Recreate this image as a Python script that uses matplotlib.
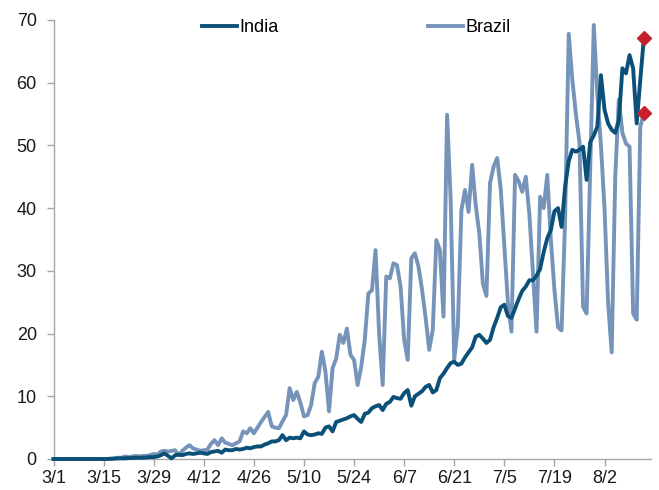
import matplotlib
matplotlib.use("Agg")
import matplotlib.pyplot as plt
import pandas as pd

plt.rcParams['font.family'] = ['Liberation Sans', 'DejaVu Sans']

# daily series, starting 3/1
start_date = '2020-03-01'

india = [0.0] * 14 + [
    0.0, 0.0, 0.05, 0.05, 0.1, 0.1, 0.1, 0.15, 0.15, 0.2, 0.2, 0.2, 0.25, 0.3,
    0.3, 0.4, 0.6, 0.9, 0.5, 0.1, 0.6, 0.7,
    0.6, 0.8, 0.9, 0.8, 0.9, 1.0, 0.9, 0.8, 1.1, 1.2,
    1.3, 1.0, 1.5, 1.4, 1.4, 1.6, 1.5, 1.6, 1.8, 1.7,
    1.9, 2.0, 2.0, 2.3, 2.5, 2.8, 2.8, 3.0, 3.8, 3.0,
    3.4, 3.3, 3.4, 3.3, 4.4, 3.9, 3.8, 3.9, 4.1, 4.0,
    5.0, 5.2, 4.4, 5.9, 6.1, 6.3, 6.5, 6.8, 7.0, 6.4,
    5.9, 7.2, 7.4, 8.1, 8.4, 8.6, 7.8, 8.8, 9.1, 9.9,
    9.7, 9.6, 10.5, 11.0, 8.5, 10.0, 10.4, 10.8, 11.5, 11.8, 10.6, 11.0,
    12.9, 13.6, 14.5, 15.3, 15.5, 15.0, 15.2, 16.2, 17.0, 17.8, 19.5, 19.8, 19.2, 18.5, 19.0,
    21.0, 22.5, 24.2, 24.6, 22.8, 22.5, 24.0, 25.5, 26.8, 27.5, 28.5, 28.5,
    29.2, 30.3, 33.0, 35.2, 36.5,
    39.5, 40.0, 37.0, 43.5, 47.5, 49.3, 49.0, 49.3, 49.8,
    44.5, 50.5, 51.6, 53.0, 61.2, 55.7, 53.5, 52.5, 52.0, 54.0, 62.3, 61.5, 64.4,
    62.3, 53.5, 60.5, 67.1,
]

brazil = [0.0] * 17 + [
    0.1, 0.2, 0.2, 0.4, 0.3, 0.4, 0.5, 0.4, 0.5, 0.5, 0.6, 0.8, 0.7, 1.2, 1.3,
    1.2, 1.3, 1.4, 0.6, 1.3, 1.8, 2.2,
    1.7, 1.5, 1.3, 1.4, 1.5, 2.4, 3.0, 2.2, 3.3, 2.6, 2.4, 2.2, 2.5, 2.8, 4.4,
    4.1, 4.9, 4.1, 5.0, 5.9, 6.7, 7.5, 5.2, 5.0, 4.9, 6.0, 7.0, 11.3, 9.4, 10.7,
    9.0, 6.8,
    7.0, 8.6, 12.1, 13.1, 17.1, 14.0, 7.6, 14.5, 16.0, 19.8,
    18.5, 20.8, 16.6, 15.8, 11.8, 14.7, 19.0, 26.4, 26.9, 33.3,
    20.0, 11.8, 29.1, 28.8, 31.2, 30.9, 27.5, 19.0, 15.8, 32.0,
    32.8, 30.7, 27.0, 22.5, 17.4, 20.6, 34.9, 33.3, 22.7, 54.9,
    41.3, 15.8, 21.1, 39.7, 42.9, 39.4, 46.9, 40.5, 36.0, 28.0,
    26.0, 44.0, 46.6, 48.0, 43.0, 34.0, 25.0, 20.3, 45.3, 44.3,
    42.6, 45.0, 39.0, 29.6, 20.3, 41.8, 40.0, 45.3, 35.0, 27.0,
    21.0, 20.5, 38.6, 67.8, 60.5, 55.0, 50.5, 24.3, 23.2, 46.0,
    69.2, 58.0, 50.0, 40.0, 25.0, 17.0, 45.0, 57.3, 52.0, 50.3,
    49.8, 23.2, 22.2, 53.0, 55.1,
]

tick_labels = ['3/1', '3/15', '3/29', '4/12', '4/26', '5/10', '5/24',
               '6/7', '6/21', '7/5', '7/19', '8/2']

dates = pd.date_range(start_date, periods=len(india), freq='D')
tick_dates = [pd.Timestamp('2020/' + t) for t in tick_labels]

india_color = '#0b5078'
brazil_color = '#7694b9'
marker_color = '#c8202a'

fig = plt.figure(figsize=(6.59, 4.90), dpi=100)
ax = fig.add_axes([0.0812, 0.0633, 0.9067, 0.8959])

ax.plot(dates, brazil, color=brazil_color, lw=2.8, label='Brazil',
        clip_on=False, solid_joinstyle='round', zorder=2)
ax.plot(dates, india, color=india_color, lw=2.8, label='India',
        clip_on=False, solid_joinstyle='round', zorder=3)
ax.plot(dates[-1], india[-1], marker='D', color=marker_color, ms=7.5,
        clip_on=False, zorder=4)
ax.plot(dates[-1], brazil[-1], marker='D', color=marker_color, ms=7.5,
        clip_on=False, zorder=4)

ax.set_ylim(0, 70)
ax.set_yticks(range(0, 71, 10))
ax.set_xlim(dates[0], dates[0] + pd.Timedelta(days=167))
ax.set_xticks(tick_dates)
ax.set_xticklabels(tick_labels)

for side in ['top', 'right']:
    ax.spines[side].set_visible(False)
for side in ['left', 'bottom']:
    ax.spines[side].set_color('#a6a6a6')
    ax.spines[side].set_linewidth(1.0)
ax.tick_params(axis='both', colors='#a6a6a6', labelcolor='#1a1a1a',
               labelsize=13, length=5, width=1.0)
ax.tick_params(axis='y', pad=7)
ax.tick_params(axis='x', pad=3)

handles, labels = ax.get_legend_handles_labels()
ax.legend(handles[::-1], labels[::-1], ncol=2, frameon=False, fontsize=13,
          loc='center', bbox_to_anchor=(0.507, 0.982), handlelength=1.9,
          handletextpad=0.15, columnspacing=8.3, borderaxespad=0)

fig.savefig('out.png', dpi=100)
